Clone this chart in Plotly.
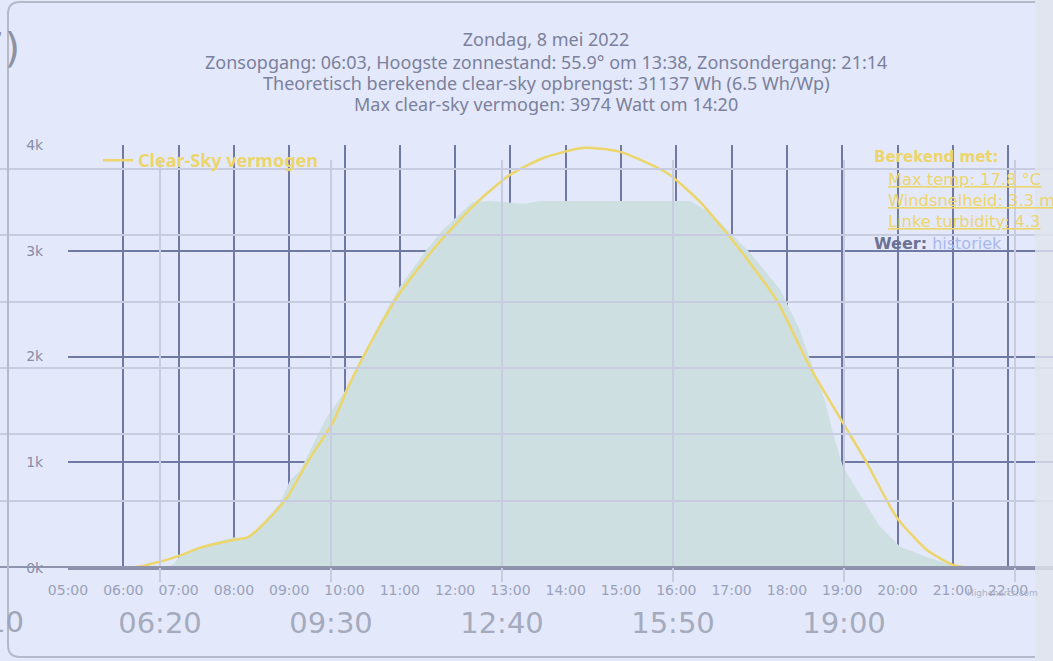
import plotly.graph_objects as go

DAY = '2022-05-08 '

# measured power (area) - time / watt
area_times = ['05:00', '06:45', '06:55', '07:00', '07:23', '07:40', '08:01', '08:15', '08:28', '08:50',
              '09:01', '09:12', '09:23', '09:39', '10:01', '10:20', '10:38', '11:00', '11:29', '11:47',
              '12:02', '12:19', '12:38', '13:15', '13:32', '14:37', '16:15', '16:37', '16:58', '17:20',
              '17:53', '18:14', '18:28', '18:41', '18:50', '19:01', '19:23', '19:41', '20:03', '20:32',
              '21:08', '22:48']
area_watts = [0, 0, 40, 100, 200, 245, 290, 280, 390, 615,
              830, 925, 1115, 1400, 1680, 2010, 2316, 2660, 3010, 3200,
              3320, 3460, 3470, 3445, 3470, 3470, 3470, 3360, 3170, 2980,
              2630, 2250, 1900, 1590, 1275, 955, 643, 390, 200, 105,
              0, 0]

# clear-sky power (line)
sky_times = ['05:00', '06:01', '06:15', '06:40', '07:02', '07:23', '07:59', '08:15', '08:36', '08:58',
             '09:19', '09:47', '10:06', '10:38', '11:00', '11:36', '11:58', '12:24', '12:59', '13:35',
             '14:20', '14:59', '15:50', '16:26', '16:58', '17:20', '17:49', '18:25', '19:01', '19:27',
             '19:59', '20:32', '21:00', '21:16', '21:30', '22:48']
sky_watts = [0, 0, 10, 60, 120, 190, 265, 290, 450, 670,
             990, 1370, 1750, 2280, 2600, 3010, 3225, 3460, 3715, 3875,
             3974, 3935, 3735, 3460, 3130, 2885, 2530, 1900, 1370, 990,
             480, 170, 30, 5, 0, 0]

hour_ticks = ['05:00', '06:00', '07:00', '08:00', '09:00', '10:00', '11:00', '12:00', '13:00',
              '14:00', '15:00', '16:00', '17:00', '18:00', '19:00', '20:00', '21:00', '22:00']
bg_ticks = ['06:20', '09:30', '12:40', '15:50', '19:00', '22:10']
y_ticks = [0, 1000, 2000, 3000, 4000]
y_labels = ['0k', '1k', '2k', '3k', '4k']
bg_rows = [0, 1, 2, 3, 4, 5, 6]

title_lines = ['Zondag, 8 mei 2022',
               'Zonsopgang: 06:03, Hoogste zonnestand: 55.9° om 13:38, Zonsondergang: 21:14',
               'Theoretisch berekende clear-sky opbrengst: 31137 Wh (6.5 Wh/Wp)',
               'Max clear-sky vermogen: 3974 Watt om 14:20']
title_rows = [40, 62, 83, 104]

W, H = 1053, 661
def px(p): return p / W
def py(p): return 1 - p / H

BG = '#e3e9fb'
YELLOW = '#ecd56b'
GRID = '#6f79a3'
FAINT = '#c7cce0'
TITLE_FONT = dict(family='Noto Sans', size=18, color='#7b809c')

fig = go.Figure()
fig.add_trace(go.Scatter(x=[DAY + t for t in area_times], y=area_watts, mode='lines',
                         fill='tozeroy', fillcolor='#cddfe1', line=dict(width=0, color='#cddfe1'),
                         showlegend=False, hoverinfo='skip'))
fig.add_trace(go.Scatter(x=[DAY + t for t in sky_times], y=sky_watts, mode='lines',
                         name='Clear-Sky vermogen', line=dict(color=YELLOW, width=2.5, shape='spline', smoothing=0.6)))
# background chart grid (no data)
fig.add_trace(go.Scatter(x=[], y=[], xaxis='x2', yaxis='y2', showlegend=False, hoverinfo='skip'))

fig.update_layout(
    width=W, height=H, margin=dict(l=0, r=0, t=0, b=0, autoexpand=False),
    paper_bgcolor=BG, plot_bgcolor='rgba(0,0,0,0)',
    font=dict(family='DejaVu Sans', color='#7a7f9a'),
    title=dict(text=title_lines[0], x=px(546), xanchor='center', y=py(title_rows[0]), yanchor='middle',
               font=TITLE_FONT),
    xaxis=dict(type='date', domain=[px(68), 1], anchor='y',
               range=[DAY + '05:00', DAY + '22:48:43'],
               tickvals=[DAY + t for t in hour_ticks], ticktext=hour_ticks,
               showgrid=True, gridcolor=GRID, gridwidth=1.7,
               showline=True, linecolor='#8a90aa', linewidth=2,
               ticks='outside', ticklen=8, tickcolor='rgba(0,0,0,0)',
               tickfont=dict(size=14, color='#9ba1b9')),
    yaxis=dict(domain=[py(568), py(145)], anchor='x', range=[0, 4000],
               tickvals=y_ticks, ticktext=y_labels,
               showgrid=True, gridcolor=GRID, gridwidth=1.7, zeroline=False,
               ticks='outside', ticklen=21, tickcolor='rgba(0,0,0,0)',
               tickfont=dict(size=14, color='#878da8')),
    xaxis2=dict(type='date', domain=[0, 1], anchor='y2',
                range=[DAY + '03:22:13', DAY + '22:52:13'],
                tickvals=[DAY + t for t in bg_ticks], ticktext=bg_ticks,
                showgrid=True, gridcolor=FAINT, gridwidth=2, showline=False,
                ticks='outside', ticklen=15, tickcolor='rgba(0,0,0,0)',
                tickfont=dict(size=29, color='#a5aabd')),
    yaxis2=dict(domain=[py(582), py(160)], anchor='x2', range=[-0.226, 6.136],
                tickvals=bg_rows, showticklabels=False,
                showgrid=True, gridcolor=FAINT, gridwidth=2,
                zeroline=True, zerolinecolor='#8e94ac', zerolinewidth=2),
    legend=dict(x=px(98), y=py(142), xanchor='left', yanchor='top', bgcolor='rgba(0,0,0,0)',
                font=dict(family='Noto Sans', size=18, color=YELLOW, weight='bold')),
    showlegend=True,
)

for text, row in zip(title_lines[1:], title_rows[1:]):
    fig.add_annotation(text=text, x=px(546), y=py(row), xref='paper', yref='paper', xanchor='center',
                       yanchor='middle', showarrow=False, font=TITLE_FONT)

# panel border and right strip
path = ('M {a},{t} L {b},{t} Q {c},{t} {c},{d} L {c},{e} Q {c},{f} {b},{f} L {a},{f}'
        .format(a=px(1035), b=px(20), c=px(8), t=py(2), d=py(14), e=py(645), f=py(657)))
fig.add_shape(type='path', path=path, xref='paper', yref='paper', line=dict(color='#b5b9c8', width=2))
fig.add_shape(type='rect', xref='paper', yref='paper', x0=px(1035), x1=1, y0=0, y1=1,
              fillcolor='#dfe3ee', opacity=0.8, line=dict(width=0), layer='above')

ann = [
    ('<b>Berekend met:</b>', 872, 157, YELLOW, 15),
    ('<u>Max temp: 17.8 °C</u>', 886, 179, YELLOW, 16.3),
    ('<u>Windsnelheid: 3.3 m/s</u>', 886, 201, YELLOW, 16.3),
    ('<u>Linke turbidity: 4.3</u>', 886, 222, YELLOW, 16.3),
    ('<b>Weer:</b> <span style="color:#a9b7ee">historiek</span>', 872, 243, '#6c7292', 16),
]
for text, x, y, col, size in ann:
    fig.add_annotation(text=text, x=px(x), y=py(y), xref='paper', yref='paper', xanchor='left', yanchor='middle',
                       showarrow=False, font=dict(family='DejaVu Sans', size=size, color=col))

fig.add_annotation(text='7)', x=px(22), y=py(48), xref='paper', yref='paper', xanchor='right', yanchor='middle',
                   showarrow=False, font=dict(family='DejaVu Sans', size=40, color='#8d91a2'))
fig.add_annotation(text='10', x=px(26), y=py(622), xref='paper', yref='paper', xanchor='right', yanchor='middle',
                   showarrow=False, font=dict(family='DejaVu Sans', size=29, color='#a0a5b8'))
fig.add_annotation(text='Highcharts.com', x=px(1040), y=py(593), xref='paper', yref='paper', xanchor='right',
                   yanchor='middle', showarrow=False, font=dict(family='DejaVu Sans', size=9, color='#aeb2c4'))

fig.write_html('out.html', config=dict(displayModeBar=False),
               post_script="document.body.style.margin='0';")
